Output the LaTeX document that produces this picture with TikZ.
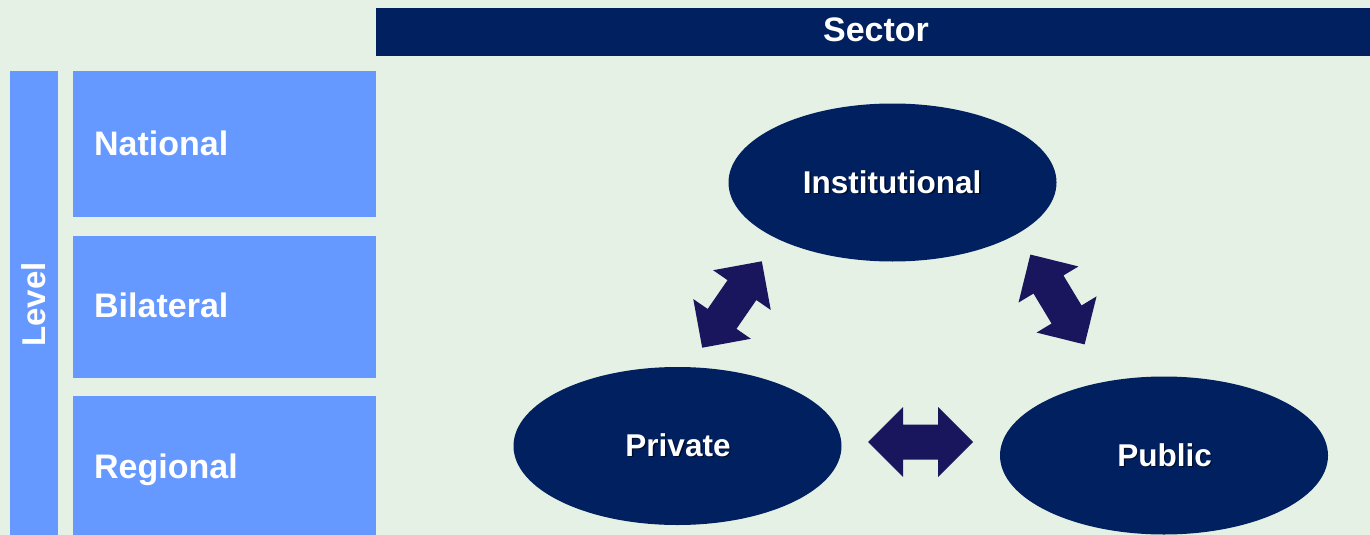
\documentclass[tikz,border=0pt]{standalone}
\usepackage{fontspec}
\setmainfont{Liberation Sans}
\usetikzlibrary{shapes.geometric}
\definecolor{bgc}{RGB}{229,241,229}
\definecolor{boxc}{RGB}{102,153,255}
\definecolor{navyc}{RGB}{0,32,96}
\definecolor{arrc}{RGB}{25,22,94}
\tikzset{
  lvbox/.style={fill=boxc, draw=none},
  lvtext/.style={text=white, font=\bfseries\fontsize{34}{40}\selectfont, inner sep=0pt, anchor=base west},
  ell/.style={ellipse, fill=navyc, draw=none, minimum width=328pt, minimum height=158pt, inner sep=0pt},
  elltext/.style={text=white, font=\bfseries\fontsize{31.5}{36}\selectfont, inner sep=0pt, anchor=base},
  shadowtext/.style={text=black, opacity=0.55, font=\bfseries\fontsize{31.5}{36}\selectfont, inner sep=0pt, anchor=base},
  pics/dblarrow/.style={code={
    \fill[arrc] (-52.5,0) -- (-17.5,35) -- (-17.5,17.5) -- (17.5,17.5) -- (17.5,35) -- (52.5,0)
      -- (17.5,-35) -- (17.5,-17.5) -- (-17.5,-17.5) -- (-17.5,-35) -- cycle;
  }}
}
\begin{document}
\begin{tikzpicture}[x=1pt,y=-1pt]
\fill[bgc] (0,0) rectangle (1370,535);
\useasboundingbox (0,0) rectangle (1370,535);
% sector header
\fill[navyc] (376,8) rectangle (1370,56);
\node[text=white, font=\bfseries\fontsize{34}{40}\selectfont, inner sep=0pt, anchor=base] (sector) at (876,42) {Sector};
% level bar
\fill[lvbox] (10,71) rectangle (58,535);
\node[text=white, font=\bfseries\fontsize{33}{40}\selectfont, inner sep=0pt, anchor=base, rotate=90] (level) at (45,304.5) {Level};
% level boxes
\fill[lvbox] (73,71) rectangle (376,217);
\fill[lvbox] (73,236) rectangle (376,378);
\fill[lvbox] (73,396) rectangle (376,535);
\node[lvtext] (national) at (94,155) {National};
\node[lvtext] (bilateral) at (94,317) {Bilateral};
\node[lvtext] (regional) at (94,478) {Regional};
% ellipses
\node[ell] (inst) at (892.5,182.5) {};
\node[ell] (priv) at (677.5,446) {};
\node[ell] (pub) at (1164,455.5) {};
\node[shadowtext] at (893.8,194.3) {Institutional};
\node[elltext] (instt) at (892,193) {Institutional};
\node[shadowtext] at (679.3,457.3) {Private};
\node[elltext] (privt) at (678,456) {Private};
\node[shadowtext] at (1165.8,467.3) {Public};
\node[elltext] (pubt) at (1164.5,466) {Public};
% double arrows
\coordinate (a1) at (732,304.5);
\coordinate (a2) at (1057.5,299.5);
\coordinate (a3) at (920.5,442);
\pic[rotate=55.4] at (a1) {dblarrow};
\pic[rotate=121.1] at (a2) {dblarrow};
\pic at (a3) {dblarrow};
\end{tikzpicture}
\end{document}
